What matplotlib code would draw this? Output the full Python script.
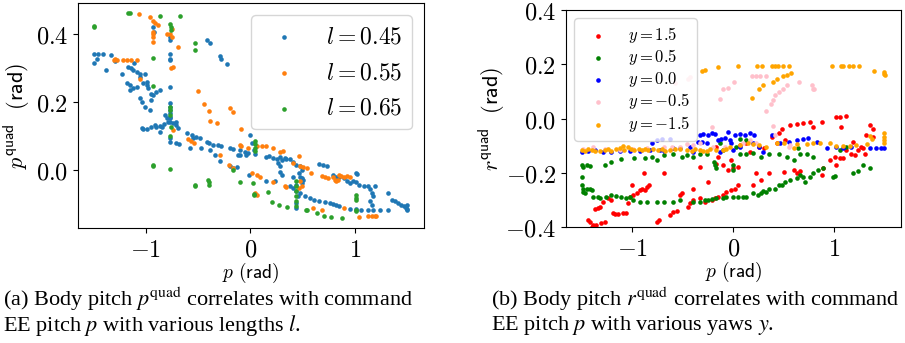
import matplotlib.pyplot as plt

plt.rcParams['mathtext.fontset'] = 'cm'

# ---- (a) body pitch vs command pitch, per length l ----
l45 = [(-1.50, 0.343), (-1.50, 0.314), (-1.46, 0.343), (-1.41, 0.341), (-1.47, 0.328), (-1.38, 0.296),
       (-1.33, 0.338), (-1.30, 0.322), (-1.23, 0.284), (-1.17, 0.304), (-1.14, 0.299), (-1.12, 0.294),
       (-1.09, 0.289), (-1.06, 0.284), (-1.18, 0.255), (-1.15, 0.250), (-1.12, 0.240), (-1.09, 0.243),
       (-1.06, 0.275), (-1.03, 0.257), (-0.99, 0.260), (-1.01, 0.284), (-1.11, 0.314), (-0.99, 0.250),
       (-0.98, 0.240), (-0.95, 0.225), (-0.93, 0.221), (-0.90, 0.230), (-0.87, 0.235), (-1.06, 0.211),
       (-1.04, 0.201), (-1.01, 0.186), (-0.96, 0.176), (-0.95, 0.206), (-1.15, 0.235),
       (-0.77, 0.392), (-0.77, 0.382), (-0.77, 0.343), (-0.77, 0.328), (-0.77, 0.324), (-0.77, 0.245),
       (-0.77, 0.196), (-0.77, 0.186), (-0.77, 0.176), (-0.77, 0.167), (-0.77, 0.157), (-0.77, 0.152),
       (-0.77, 0.142), (-0.77, 0.093), (-0.77, 0.083),
       (-1.04, 0.123), (-1.03, 0.121), (-0.99, 0.120), (-0.95, 0.127), (-0.91, 0.132), (-0.90, 0.127),
       (-0.87, 0.129), (-0.83, 0.135), (-0.82, 0.162), (-0.80, 0.152), (-0.79, 0.142), (-0.87, 0.113),
       (-0.85, 0.127), (-0.74, 0.137), (-0.71, 0.142), (-0.69, 0.123), (-0.71, 0.132), (-0.71, 0.078),
       (-0.68, 0.076), (-0.61, 0.108), (-0.56, 0.103), (-0.55, 0.093), (-0.52, 0.098), (-0.48, 0.093),
       (-0.42, 0.083), (-0.40, 0.078), (-0.36, 0.074), (-0.31, 0.074), (-0.28, 0.069), (-0.20, 0.064),
       (-0.17, 0.061), (-0.12, 0.044), (-0.10, 0.059), (-0.05, 0.054), (-0.02, 0.049), (0.00, 0.103),
       (0.01, 0.078), (0.03, 0.057), (0.04, 0.047), (-0.04, 0.044), (-0.58, 0.064), (-0.47, 0.064),
       (-0.39, 0.059), (-0.34, 0.044), (-0.29, 0.025), (-0.20, 0.010), (-0.17, 0.005), (-0.13, 0.008),
       (-0.93, 0.420), (-0.92, 0.407), (-0.42, 0.382), (-0.39, 0.375), (-0.29, 0.335), (-0.28, 0.328),
       (-0.22, 0.312),
       (0.15, 0.039), (0.18, 0.041), (0.22, 0.034), (0.25, 0.031), (0.28, 0.039), (0.30, 0.029),
       (0.33, 0.034), (0.34, 0.031), (0.38, 0.033), (0.41, 0.022), (0.44, 0.015), (0.47, 0.010),
       (0.49, 0.000), (0.46, -0.010), (0.47, -0.020), (0.49, -0.025), (0.50, -0.029), (0.49, -0.039),
       (0.44, -0.044), (0.38, -0.047), (0.28, 0.010), (0.28, -0.005), (0.30, -0.015), (0.26, 0.020),
       (0.47, -0.069), (0.52, -0.078), (0.57, -0.083), (0.61, -0.088), (0.66, -0.093), (0.71, -0.096),
       (0.76, -0.098), (0.79, -0.100), (0.82, -0.103), (0.85, -0.108), (0.95, -0.116), (1.01, -0.116),
       (1.06, -0.120), (1.12, -0.118), (1.17, -0.120), (1.24, -0.120), (1.32, -0.120), (0.66, 0.018),
       (0.69, 0.015), (0.73, 0.012), (0.79, -0.015), (0.82, -0.020), (0.85, -0.022), (0.89, -0.025),
       (0.92, -0.034), (0.95, -0.039), (0.98, -0.034), (1.01, -0.037), (1.04, -0.044), (1.09, -0.049),
       (1.12, -0.047), (1.14, -0.057), (1.16, -0.069), (1.17, -0.078), (1.19, -0.049), (1.16, -0.103),
       (1.14, -0.093), (1.32, -0.067), (1.35, -0.088), (1.38, -0.093), (1.41, -0.098), (1.44, -0.103),
       (1.47, -0.108), (1.49, -0.113), (1.50, -0.116), (1.50, -0.120), (1.50, -0.103), (1.01, -0.008),
       (1.02, -0.012), (-0.10, 0.044), (-0.01, -0.015), (0.15, -0.034), (0.23, -0.034), (0.41, -0.054),
       (0.44, -0.064), (0.45, -0.078), (0.44, -0.098), (0.44, -0.113), (0.41, -0.020)]

l55 = [(-1.07, 0.461), (-0.96, 0.451), (-0.93, 0.439), (-0.91, 0.433), (-0.88, 0.426), (-0.93, 0.407),
       (-0.93, 0.400), (-0.93, 0.392), (-0.93, 0.377), (-0.80, 0.402), (-0.77, 0.402), (-0.75, 0.417),
       (-0.75, 0.392), (-0.74, 0.304), (-0.76, 0.299), (-0.69, 0.363), (-1.31, 0.324), (-1.30, 0.328),
       (-1.28, 0.324), (-1.22, 0.325), (-1.18, 0.324), (-1.14, 0.324), (-1.09, 0.324), (-1.06, 0.267),
       (-0.50, 0.233), (-0.44, 0.194), (-0.40, 0.175), (-0.39, 0.144), (-0.32, 0.139), (-0.20, 0.181),
       (-0.17, 0.172), (-0.10, 0.074), (-0.09, 0.069), (-0.02, 0.064), (0.06, 0.069), (0.11, 0.069),
       (0.15, 0.069), (0.22, 0.064), (0.31, 0.056), (-0.21, 0.015), (-0.17, 0.005), (0.01, -0.010),
       (0.06, -0.015), (0.09, -0.020), (0.22, -0.037), (0.33, -0.049), (0.34, -0.051), (0.04, -0.069),
       (0.06, -0.074), (0.46, 0.041), (0.41, 0.020), (0.47, 0.010), (0.50, 0.008), (0.54, 0.005),
       (0.58, -0.010), (0.68, -0.018), (0.71, -0.020), (0.74, -0.025), (0.79, -0.020), (0.81, -0.029),
       (0.82, -0.034), (0.84, -0.029), (0.85, -0.015), (0.87, -0.018), (0.89, -0.022), (0.92, -0.018),
       (0.95, -0.020), (-0.74, 0.118), (-0.60, 0.091), (-0.57, 0.085), (-0.54, 0.079), (-0.09, 0.120),
       (1.04, -0.139), (1.12, -0.137), (1.16, -0.137), (1.19, -0.137), (1.20, -0.135), (0.89, -0.113),
       (0.68, -0.120), (0.60, -0.113), (0.46, -0.055), (0.49, -0.049), (0.47, -0.034), (0.28, 0.054),
       (-0.29, 0.044)]

l65 = [(-1.17, 0.464), (-1.15, 0.463), (-0.87, 0.454), (-0.67, 0.454), (-1.50, 0.424), (-1.50, 0.420),
       (-0.77, 0.429), (-0.76, 0.422), (-0.76, 0.412), (-0.53, 0.373), (-0.53, 0.355), (-0.93, 0.331),
       (-0.93, 0.247), (-0.77, 0.184), (-0.77, 0.176), (-0.77, 0.162), (-0.76, 0.125), (-0.77, 0.100),
       (-0.93, 0.015), (-0.93, 0.010), (-0.77, 0.003), (-0.53, -0.044), (-0.53, -0.049), (-0.41, -0.029),
       (-0.40, -0.037), (-0.40, -0.044), (-0.17, 0.000), (-0.10, -0.037), (0.02, -0.038), (0.03, -0.071),
       (0.03, -0.074), (0.04, 0.085), (0.04, 0.075), (0.04, 0.065), (0.04, 0.055), (0.44, -0.034),
       (0.44, -0.049), (0.44, -0.064), (0.44, -0.078), (0.44, -0.093), (0.44, -0.108), (0.17, -0.065),
       (0.21, -0.094), (0.27, -0.103), (0.35, -0.109), (0.53, -0.118), (0.54, -0.120), (0.64, -0.126),
       (0.70, -0.135), (0.77, -0.138), (0.88, -0.141), (1.01, -0.075), (1.01, -0.083), (1.01, -0.090),
       (1.01, -0.118), (1.01, -0.123)]

# ---- (b) body roll vs command pitch, per yaw y ----
y15 = [(-1.44, -0.374), (-1.42, -0.380), (-1.40, -0.399), (-1.39, -0.393), (-1.36, -0.393), (-1.37, -0.335),
       (-1.34, -0.331), (-1.32, -0.325), (-1.31, -0.384), (-1.27, -0.380), (-1.29, -0.307), (-1.24, -0.294),
       (-1.21, -0.301), (-1.19, -0.350), (-1.17, -0.352), (-1.14, -0.352), (-1.09, -0.350), (-1.06, -0.350),
       (-1.04, -0.310), (-1.02, -0.288), (-0.99, -0.282), (-0.96, -0.276), (-0.93, -0.264), (-0.91, -0.258),
       (-0.88, -0.264), (-0.86, -0.252), (-0.84, -0.245), (-0.89, -0.202), (-1.00, -0.245), (-0.76, -0.380),
       (-0.74, -0.374), (-0.69, -0.202), (-0.63, -0.356), (-0.60, -0.344), (-0.56, -0.340), (-0.53, -0.282),
       (-0.51, -0.276), (-0.45, -0.325), (-0.43, -0.313), (-0.40, -0.301), (-0.33, -0.294), (-0.40, -0.258),
       (-0.28, -0.307), (-0.25, -0.233), (-0.21, -0.301), (-0.18, -0.294), (-0.15, -0.288), (-0.10, -0.282),
       (-0.07, -0.270), (-0.02, -0.264), (0.02, -0.258), (0.05, -0.245), (-0.10, -0.172), (-0.05, -0.190),
       (-0.02, -0.153), (0.00, -0.184), (0.05, -0.178), (0.07, -0.098), (0.13, -0.092), (0.20, -0.245),
       (0.23, -0.202), (0.28, -0.227), (0.36, -0.202), (0.38, -0.067), (0.45, -0.055), (0.48, -0.037),
       (0.51, -0.080), (0.56, -0.025), (0.63, -0.022), (0.69, -0.018), (0.76, -0.012), (0.79, -0.031),
       (0.88, -0.012), (0.89, -0.184), (0.88, -0.209), (0.96, -0.153), (1.01, -0.141), (1.02, -0.172),
       (1.06, -0.147), (1.09, -0.147), (1.12, -0.117), (1.17, -0.129), (1.21, -0.135), (1.24, -0.117),
       (1.27, -0.104), (1.31, -0.129), (1.32, -0.061), (1.02, 0.006), (1.06, 0.006), (1.07, -0.031),
       (1.12, 0.009), (1.36, -0.025), (1.39, -0.037), (1.39, -0.067), (0.60, -0.190), (0.63, -0.202),
       (0.66, -0.193), (0.50, -0.196), (0.17, -0.123), (0.26, -0.104), (0.31, -0.107), (-0.17, -0.104),
       (-0.15, -0.141), (-0.17, -0.166), (-0.33, -0.178), (0.43, -0.092), (1.19, -0.086), (1.29, -0.110)]

y05 = [(-1.50, -0.172), (-1.50, -0.215), (-1.49, -0.178), (-1.45, -0.172), (-1.42, -0.175), (-1.50, -0.245),
       (-1.49, -0.258), (-1.49, -0.270), (-1.47, -0.276), (-1.45, -0.258), (-1.42, -0.258), (-1.40, -0.264),
       (-1.39, -0.288), (-1.34, -0.288), (-1.32, -0.294), (-1.26, -0.288), (-1.21, -0.282), (-1.16, -0.286),
       (-1.11, -0.288), (-1.06, -0.294), (-1.02, -0.288), (-0.99, -0.301), (-0.93, -0.307), (-0.86, -0.307),
       (-0.76, -0.307), (-0.69, -0.307), (-0.60, -0.307), (-0.53, -0.301), (-0.40, -0.307), (-0.33, -0.307),
       (-0.28, -0.301), (-0.25, -0.301), (-0.21, -0.297), (-0.17, -0.294), (-0.10, -0.294), (-0.07, -0.291),
       (0.00, -0.288), (0.05, -0.291), (0.10, -0.288), (0.13, -0.288), (0.20, -0.276), (0.25, -0.282),
       (0.28, -0.276), (0.30, -0.266), (0.33, -0.270), (0.36, -0.258), (0.41, -0.258), (0.45, -0.245),
       (0.48, -0.245), (0.51, -0.233), (0.56, -0.227), (0.63, -0.221), (0.66, -0.209), (0.69, -0.215),
       (0.71, -0.233), (0.76, -0.215), (0.79, -0.202), (0.84, -0.190), (0.89, -0.184), (0.99, -0.215),
       (1.01, -0.212), (1.19, -0.200), (1.24, -0.194), (1.29, -0.172), (1.36, -0.184), (-1.27, -0.172),
       (-1.21, -0.160), (-1.11, -0.151), (-0.98, -0.147), (-0.88, -0.147), (-0.81, -0.141), (-0.76, -0.153),
       (-0.69, -0.135), (-0.60, -0.129), (-0.51, -0.141), (-0.46, -0.135), (-0.40, -0.141), (-0.33, -0.129),
       (-0.26, -0.129), (-0.19, -0.160), (-0.18, -0.172), (-0.17, -0.184), (-0.10, -0.117), (0.03, -0.104),
       (0.07, -0.129), (0.13, -0.129), (0.20, -0.126), (0.28, -0.141), (0.36, -0.129), (0.45, -0.129),
       (0.53, -0.141), (0.60, -0.153), (0.66, -0.129), (0.73, -0.129), (0.00, -0.172), (0.00, -0.190),
       (0.07, -0.077), (0.13, -0.080), (-0.13, -0.092), (0.64, -0.110), (1.06, -0.117), (1.12, -0.104),
       (0.79, -0.141)]

y00 = [(-1.50, -0.123), (-1.44, -0.119), (-1.37, -0.117), (-1.29, -0.123), (-1.21, -0.123), (-1.12, -0.119),
       (-1.02, -0.119), (-0.93, -0.119), (-0.83, -0.117), (-0.73, -0.117), (-0.69, -0.119), (-0.81, -0.092),
       (-0.76, -0.080), (-0.71, -0.077), (-0.63, -0.077), (-0.60, -0.110), (-0.53, -0.110), (-0.43, -0.104),
       (-0.40, -0.123), (-0.35, -0.086), (-0.31, -0.086), (-0.26, -0.092), (-0.33, -0.061), (-0.30, -0.058),
       (-0.25, -0.059), (-0.21, -0.055), (-0.18, -0.058), (-0.15, -0.080), (-0.12, -0.074), (-0.08, -0.070),
       (-0.05, -0.049), (-0.03, -0.080), (-0.02, -0.092), (0.00, -0.117), (0.02, -0.061), (0.07, -0.058),
       (0.12, -0.061), (0.17, -0.053), (0.21, -0.061), (0.20, -0.092), (0.26, -0.104), (0.30, -0.123),
       (0.38, -0.061), (0.46, -0.092), (0.55, -0.086), (0.63, -0.080), (0.69, -0.074), (0.74, -0.070),
       (0.83, -0.086), (0.93, -0.107), (1.02, -0.104), (1.09, -0.107), (1.17, -0.104), (1.36, -0.110),
       (1.42, -0.110), (1.47, -0.110), (1.50, -0.110), (-0.13, -0.123), (0.07, -0.104)]

ym05 = [(-1.49, -0.114), (-1.39, -0.104), (-1.27, -0.114), (-1.12, -0.117), (-0.99, -0.114), (-0.86, -0.110),
        (-0.69, -0.104), (-0.61, -0.104), (-0.53, -0.104), (-0.46, -0.094), (-0.40, -0.098), (-0.33, -0.092),
        (-0.20, -0.104), (-0.08, -0.104), (0.10, -0.092), (0.17, -0.080), (0.23, -0.092), (0.55, -0.104),
        (0.56, -0.098), (-0.21, -0.031), (-0.13, 0.071), (-0.10, 0.110), (-0.05, 0.114), (0.01, 0.135),
        (0.19, 0.157), (0.23, 0.157), (0.27, 0.157), (0.33, 0.157), (0.65, 0.133), (0.78, 0.125),
        (0.79, 0.110), (0.80, 0.107), (0.53, 0.125), (0.49, 0.110), (0.45, 0.098), (0.41, 0.086),
        (0.39, 0.070), (0.37, 0.055), (0.33, 0.027), (0.39, -0.028), (0.41, -0.061), (-0.58, 0.131),
        (-0.45, 0.147), (-0.43, 0.153)]

ym15 = [(-1.50, -0.115), (-1.47, -0.118), (-1.44, -0.114), (-1.40, -0.116), (-1.37, -0.118), (-1.32, -0.120),
        (-1.27, -0.116), (-1.24, -0.114), (-1.21, -0.118), (-1.16, -0.114), (-1.12, -0.108), (-1.09, -0.102),
        (-1.08, -0.116), (-1.04, -0.106), (-1.01, -0.112), (-0.98, -0.116), (-0.94, -0.112), (-0.91, -0.116),
        (-0.88, -0.112), (-0.85, -0.116), (-0.80, -0.112), (-0.75, -0.116), (-0.71, -0.112), (-0.68, -0.118),
        (-0.63, -0.116), (-0.58, -0.112), (-0.53, -0.112), (-0.46, -0.116), (-0.41, -0.118), (-0.38, -0.112),
        (-0.33, -0.116), (-0.30, -0.118), (-0.26, -0.118), (-0.23, -0.112), (-0.17, -0.116), (-0.10, -0.116),
        (-0.07, -0.112), (-0.03, -0.106), (0.07, -0.098), (0.15, -0.092), (0.20, -0.094), (0.26, -0.098),
        (0.33, -0.104), (0.43, -0.092), (0.50, -0.092), (0.60, -0.110), (0.63, -0.094), (0.73, -0.094),
        (0.79, -0.092), (0.86, -0.092), (0.96, -0.092), (1.02, -0.101), (1.09, -0.102), (1.16, -0.102),
        (1.22, -0.098), (1.33, -0.094), (1.50, -0.055), (1.50, -0.067), (1.50, -0.080), (1.50, -0.090),
        (1.36, -0.065), (1.38, -0.075),
        (0.05, 0.193), (0.24, 0.193), (0.29, 0.193), (0.38, 0.193), (0.41, 0.193), (0.44, 0.193),
        (0.49, 0.193), (0.55, 0.193), (0.98, 0.193), (1.07, 0.193), (1.09, 0.193), (1.15, 0.193),
        (1.19, 0.193), (1.25, 0.193), (1.40, 0.175), (1.50, 0.171), (1.51, 0.159), (1.50, 0.165),
        (-0.15, 0.190), (-0.31, 0.174), (-0.28, 0.178), (0.19, 0.077), (0.26, 0.110), (0.30, 0.125),
        (0.39, 0.135), (0.43, 0.144), (0.49, 0.156), (0.53, 0.159), (0.57, 0.168)]

left_series = [(l45, r'$l = 0.45$', 'C0'), (l55, r'$l = 0.55$', 'C1'), (l65, r'$l = 0.65$', 'C2')]
right_series = [(y15, r'$y = 1.5$', 'red'), (y05, r'$y = 0.5$', 'green'), (y00, r'$y = 0.0$', 'blue'),
                (ym05, r'$y = -0.5$', 'pink'), (ym15, r'$y = -1.5$', 'orange')]

x_ticks = [-1, 0, 1]
x_ticklabels = [r'$-1$', r'$0$', r'$1$']
left_yticks = [0.0, 0.2, 0.4]
right_yticks = [-0.4, -0.2, 0.0, 0.2, 0.4]

fig = plt.figure(figsize=(9.05, 3.43), dpi=100)
ax1 = fig.add_axes([0.0862, 0.335, 0.3823, 0.656])
ax2 = fig.add_axes([0.6254, 0.338, 0.3707, 0.633])

for pts, lab, col in left_series:
    xs, ys = zip(*pts)
    ax1.scatter(xs, ys, s=11, c=col, linewidths=0, label=lab)
for pts, lab, col in right_series:
    xs, ys = zip(*pts)
    ax2.scatter(xs, ys, s=11, c=col, linewidths=0, label=lab)

ax1.set_xlim(-1.65, 1.66)
ax1.set_ylim(-0.172, 0.492)
ax2.set_xlim(-1.66, 1.67)
ax2.set_ylim(-0.4, 0.4)

for ax, yt in [(ax1, left_yticks), (ax2, right_yticks)]:
    ax.set_xticks(x_ticks)
    ax.set_xticklabels(x_ticklabels)
    ax.set_yticks(yt)
    ax.set_yticklabels([r'$%.1f$' % v for v in yt])
    ax.tick_params(labelsize=17.5)
    ax.set_xlabel(r'$p\ \mathsf{(rad)}$', fontsize=14, labelpad=-1)

ax1.set_ylabel(r'$p^{\mathsf{quad}}\ \ \mathsf{(rad)}$', fontsize=16, labelpad=2)
ax2.set_ylabel(r'$r^{\mathsf{quad}}\ \ \mathsf{(rad)}$', fontsize=16, labelpad=-2)

ax1.legend(loc='upper right', fontsize=17, borderaxespad=0.5)
ax2.legend(loc='upper left', fontsize=12, labelspacing=0.15, borderaxespad=0.5)

cap = dict(family='Liberation Serif', fontsize=16, math_fontfamily='stix', va='center', ha='left')
fig.text(0.003, 0.128, r'(a) Body pitch $p^{\mathrm{quad}}$ correlates with command', **cap)
fig.text(0.003, 0.052, r'EE pitch $p$ with various lengths $l$.', **cap)
fig.text(0.543, 0.128, r'(b) Body pitch $r^{\mathrm{quad}}$ correlates with command', **cap)
fig.text(0.543, 0.052, r'EE pitch $p$ with various yaws $y$.', **cap)

fig.savefig('out.png', dpi=100)
